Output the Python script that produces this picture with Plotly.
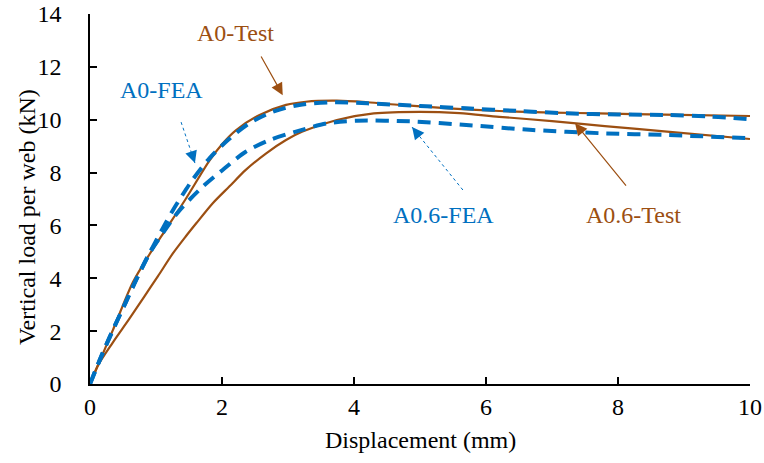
import plotly.graph_objects as go

# ---- data ----
a0_test_x = [0, 0.34, 0.65, 0.9, 1.15, 1.45, 1.81, 2.01, 2.21, 2.57, 2.97, 3.27, 3.74, 4.2, 4.7, 5.5, 6.2, 7.0, 7.7, 8.7, 10]
a0_test_y = [0, 2.0, 3.85, 4.9, 5.85, 7.0, 8.45, 9.1, 9.6, 10.18, 10.56, 10.68, 10.72, 10.66, 10.56, 10.42, 10.33, 10.27, 10.24, 10.19, 10.14]

a0_fea_x = [0, 0.19, 0.37, 0.54, 0.71, 0.9, 1.1, 1.25, 1.4, 1.56, 1.81, 2.09, 2.41, 2.77, 3.17, 3.7, 4.2, 5.0, 5.7, 6.5, 7.22, 8.0, 8.74, 9.4, 10]
a0_fea_y = [0, 1.16, 2.17, 3.08, 4.0, 4.94, 5.88, 6.55, 7.15, 7.75, 8.54, 9.23, 9.86, 10.3, 10.56, 10.66, 10.62, 10.52, 10.43, 10.33, 10.24, 10.2, 10.18, 10.12, 10.02]

a06_test_x = [0, 0.12, 0.34, 0.6, 0.82, 1.03, 1.25, 1.45, 1.61, 1.86, 2.11, 2.36, 2.67, 2.97, 3.22, 3.74, 4.3, 5.0, 5.6, 6.2, 7.0, 7.8, 8.7, 10]
a06_test_y = [0, 0.7, 1.55, 2.48, 3.3, 4.08, 4.92, 5.58, 6.08, 6.84, 7.47, 8.10, 8.73, 9.23, 9.55, 9.99, 10.24, 10.3, 10.25, 10.11, 9.95, 9.76, 9.56, 9.27]

a06_fea_x = [0, 0.19, 0.37, 0.54, 0.71, 0.9, 1.13, 1.35, 1.71, 2.01, 2.36, 2.72, 3.12, 3.59, 4.04, 4.85, 5.7, 6.71, 7.73, 8.74, 10]
a06_fea_y = [0, 1.16, 2.17, 3.08, 4.0, 4.94, 5.8, 6.55, 7.47, 8.10, 8.79, 9.23, 9.55, 9.86, 9.96, 9.94, 9.8, 9.61, 9.49, 9.42, 9.3]

x_ticks = [0, 2, 4, 6, 8, 10]
y_ticks = [0, 2, 4, 6, 8, 10, 12, 14]

BROWN = "#9C4F12"
BLUE = "#0070C0"
FONT = "Liberation Serif"
FS = 24

fig = go.Figure()
for x, y in [(a0_test_x, a0_test_y), (a06_test_x, a06_test_y)]:
    fig.add_trace(go.Scatter(x=x, y=y, mode="lines", line=dict(color=BROWN, width=2.2, shape="spline", smoothing=0.8),
                             showlegend=False, hoverinfo="skip"))
for x, y in [(a0_fea_x, a0_fea_y), (a06_fea_x, a06_fea_y)]:
    fig.add_trace(go.Scatter(x=x, y=y, mode="lines", line=dict(color=BLUE, width=4, dash="13px,8px", shape="spline", smoothing=0.8),
                             showlegend=False, hoverinfo="skip"))

# ---- labels with arrows ----
labels = [
    # text, color, label pos, arrow tail, arrow head, dotted
    ("A0-Test", BROWN, (2.2, 13.28), (2.58, 12.45), (2.92, 10.93), False),
    ("A0-FEA", BLUE, (1.08, 11.12), (1.38, 9.91), (1.59, 8.36), True),
    ("A0.6-FEA", BLUE, (5.36, 6.4), (5.65, 7.34), (4.88, 9.72), True),
    ("A0.6-Test", BROWN, (8.24, 6.4), (8.14, 7.45), (7.35, 9.87), False),
]
for text, col, (lx, ly), (tx, ty), (hx, hy), dotted in labels:
    fig.add_annotation(x=lx, y=ly, text=text, showarrow=False, font=dict(family=FONT, size=FS, color=col))
    if dotted:
        fig.add_shape(type="line", x0=tx, y0=ty, x1=hx, y1=hy, line=dict(color=col, width=1, dash="dot"))
        fig.add_annotation(x=hx, y=hy, ax=hx + (tx - hx) * 0.15, ay=hy + (ty - hy) * 0.15, axref="x", ayref="y",
                           showarrow=True, arrowhead=2, arrowsize=2, arrowwidth=1.2, arrowcolor=col, text="")
    else:
        fig.add_annotation(x=hx, y=hy, ax=tx, ay=ty, axref="x", ayref="y", showarrow=True,
                           arrowhead=2, arrowsize=2, arrowwidth=1.2, arrowcolor=col, text="")

# axis titles (plot area spans 660 x 370 px)
fig.add_annotation(x=0.5, y=-0.151, xref="paper", yref="paper", text="Displacement (mm)", showarrow=False,
                   xanchor="center", yanchor="middle", font=dict(family=FONT, size=FS, color="black"))
fig.add_annotation(x=-0.0955, y=0.451, xref="paper", yref="paper", text="Vertical load per web (kN)", showarrow=False,
                   textangle=-90, xanchor="center", yanchor="middle", font=dict(family=FONT, size=FS, color="black"))

axis_common = dict(showline=True, linecolor="black", linewidth=1.5, ticks="inside", ticklen=7, tickwidth=1.5,
                   tickcolor="black", showgrid=False, zeroline=False, automargin=False, ticklabeloverflow="allow",
                   tickfont=dict(family=FONT, size=FS, color="black"))
fig.update_xaxes(range=[0, 10], tickvals=x_ticks, ticklabelstandoff=0, **axis_common)
fig.update_yaxes(range=[0, 14], tickvals=y_ticks, ticklabelstandoff=22, **axis_common)
fig.update_layout(width=764, height=463, margin=dict(l=90, r=14, t=14, b=79),
                  plot_bgcolor="white", paper_bgcolor="white", showlegend=False)
fig.write_html("out.html", config={"displayModeBar": False},
               post_script="document.body.style.margin='0px';")
